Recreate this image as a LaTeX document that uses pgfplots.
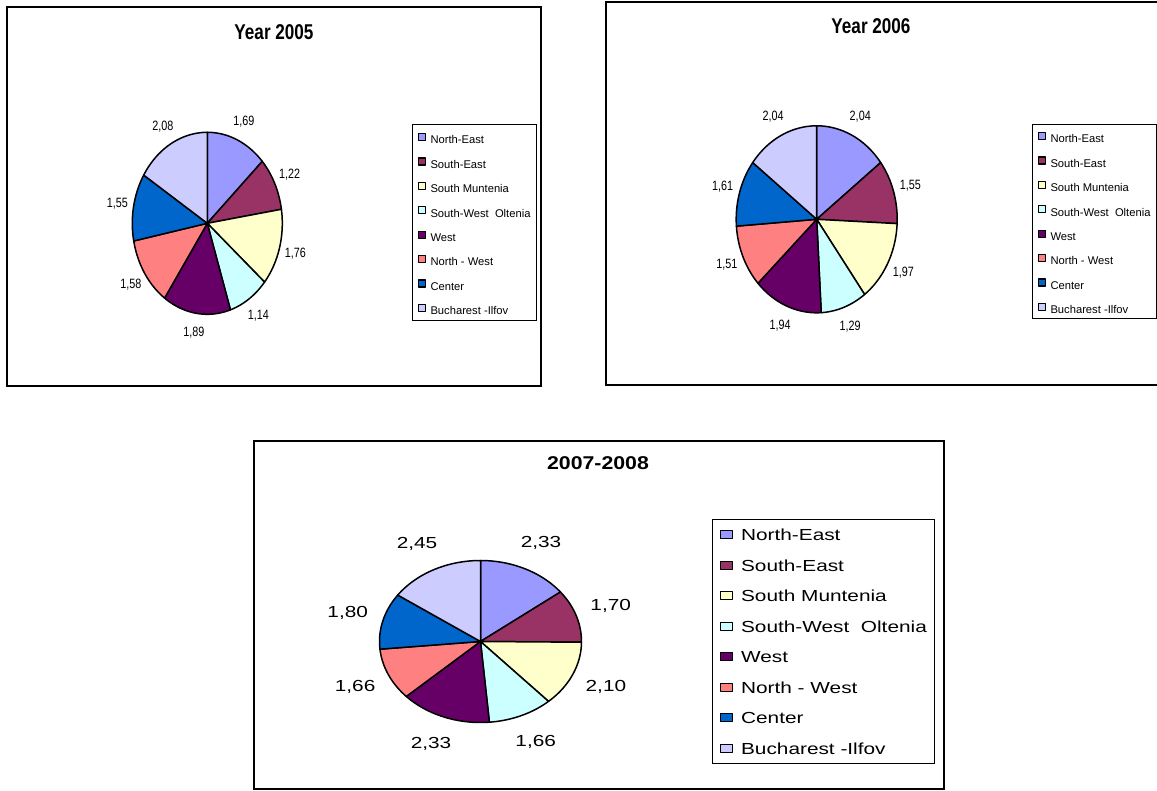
\documentclass[border=0pt]{standalone}
\usepackage{pgfplots}
\pgfplotsset{compat=1.18}
\usepackage{pgfplotstable}
\usepackage{fontspec}
\setmainfont{Liberation Sans}
\newfontfamily\fnarrow[FakeStretch=0.8]{Liberation Sans}
\newfontfamily\fwide[FakeStretch=1.3]{Liberation Sans}
\newfontfamily\fwideT[FakeStretch=1.15]{Liberation Sans}

\definecolor{pc0}{HTML}{9999FF}
\definecolor{pc1}{HTML}{993366}
\definecolor{pc2}{HTML}{FFFFCC}
\definecolor{pc3}{HTML}{CCFFFF}
\definecolor{pc4}{HTML}{660066}
\definecolor{pc5}{HTML}{FF8080}
\definecolor{pc6}{HTML}{0066CC}
\definecolor{pc7}{HTML}{CCCCFF}

% regions: North-East, South-East, South Muntenia, South-West Oltenia,
% West, North - West, Center, Bucharest -Ilfov
\pgfplotstableread{
v lab
1.69 1,69
1.22 1,22
1.76 1,76
1.14 1,14
1.89 1,89
1.58 1,58
1.55 1,55
2.08 2,08
}\yrA
\pgfplotstableread{
v lab
2.04 2,04
1.55 1,55
1.97 1,97
1.29 1,29
1.94 1,94
1.51 1,51
1.61 1,61
2.04 2,04
}\yrB
\pgfplotstableread{
v lab
2.33 2,33
1.70 1,70
2.10 2,10
1.66 1,66
2.33 2,33
1.66 1,66
1.80 1,80
2.45 2,45
}\yrC

% #1 table, #2 label radius, #3 label style
\newcommand\drawpie[3]{%
  \pgfmathsetmacro\tot{0}%
  \pgfplotsforeachungrouped \i in {0,...,7}{%
    \pgfplotstablegetelem{\i}{v}\of{#1}%
    \pgfmathsetmacro\tot{\tot+\pgfplotsretval}}%
  \pgfmathsetmacro\cum{0}%
  \pgfplotsforeachungrouped \i in {0,...,7}{%
    \pgfplotstablegetelem{\i}{v}\of{#1}\let\val\pgfplotsretval
    \pgfplotstablegetelem{\i}{lab}\of{#1}\let\lab\pgfplotsretval
    \pgfmathsetmacro\aS{90-360*\cum/\tot}%
    \pgfmathsetmacro\aE{90-360*(\cum+\val)/\tot}%
    \pgfmathsetmacro\lx{#2*cos((\aS+\aE)/2)}%
    \pgfmathsetmacro\ly{#2*sin((\aS+\aE)/2)}%
    \pgfmathsetmacro\cum{\cum+\val}%
    \edef\temp{\noexpand\addplot[draw=black,line width=1.5pt,line join=round,fill=pc\i,domain=\aE:\aS,samples=40]
      ({cos(x)},{sin(x)}) -- (axis cs:0,0) -- cycle;
      \noexpand\node[#3] at (axis cs:\lx,\ly) {\lab};}%
    \temp}%
}

\tikzset{
  labA/.style={font=\fnarrow\fontsize{13.5}{15}\selectfont},
  labC/.style={font=\fwide\fontsize{16}{19}\selectfont},
}
\pgfplotsset{
  pieaxis/.style={anchor=center, scale only axis, hide axis, clip=false,
    xmin=-1, xmax=1, ymin=-1, ymax=1,
    legend entries={North-East, South-East, South Muntenia, South-West\ \ Oltenia,
      West, North - West, Center, Bucharest -Ilfov},
    legend cell align=left},
  legA/.style={legend style={anchor=north west, draw=black, line width=0.8pt, fill=white,
      font=\fontsize{11.2}{13}\selectfont, inner xsep=6pt, inner ysep=3pt,
      row sep=5pt, column sep=4.3pt,
      nodes={inner sep=0pt, text height=16.4pt, text depth=3pt}},
    legend image code/.code={\draw[##1,line width=1.1pt] (0pt,-3.5pt) rectangle (7pt,3.5pt);}},
  legC/.style={legend style={anchor=north west, draw=black, line width=0.8pt, fill=white,
      font=\fwide\fontsize{16}{19}\selectfont, inner xsep=7.6pt, inner ysep=5.6pt,
      row sep=11pt, column sep=8.3pt,
      nodes={inner sep=0pt, text height=15.5pt, text depth=4pt}},
    legend image code/.code={\draw[##1,line width=1.1pt] (0pt,-4pt) rectangle (12pt,4pt);}},
}

\begin{document}
\begin{tikzpicture}
\path[use as bounding box, fill=white] (0pt,0pt) rectangle (1157pt,-791pt);

\draw[line width=2pt] (7pt,-7pt) rectangle (541pt,-386pt);
\draw[line width=2pt] (606pt,-2pt) rectangle (1170pt,-385pt);
\draw[line width=2.5pt] (254pt,-441pt) rectangle (944pt,-789pt);

\node[font=\fnarrow\bfseries\fontsize{21.4}{25}\selectfont, anchor=base] at (274pt,-40pt) {Year 2005};
\node[font=\fnarrow\bfseries\fontsize{21.4}{25}\selectfont, anchor=base] at (871pt,-34pt) {Year 2006};
\node[font=\fwideT\bfseries\fontsize{18.5}{22}\selectfont, anchor=base] at (598pt,-470pt) {2007-2008};

\begin{axis}[pieaxis, legA, at={(207.3pt,-223.3pt)}, width=150pt, height=182pt,
  legend style={at={(1.8627,1.0456)}}]
\drawpie{\yrA}{1.22}{labA}
\end{axis}

\begin{axis}[pieaxis, legA, at={(816.7pt,-219.3pt)}, width=161pt, height=187pt,
  legend style={at={(1.8354,1.0096)}, inner ysep=2pt}]
\drawpie{\yrB}{1.22}{labA}
\end{axis}

\begin{axis}[pieaxis, legC, at={(480.5pt,-641.5pt)}, width=202pt, height=162pt,
  legend style={at={(1.6446,1.2562)}}]
\drawpie{\yrC}{1.36}{labC}
\end{axis}
\end{tikzpicture}
\end{document}
